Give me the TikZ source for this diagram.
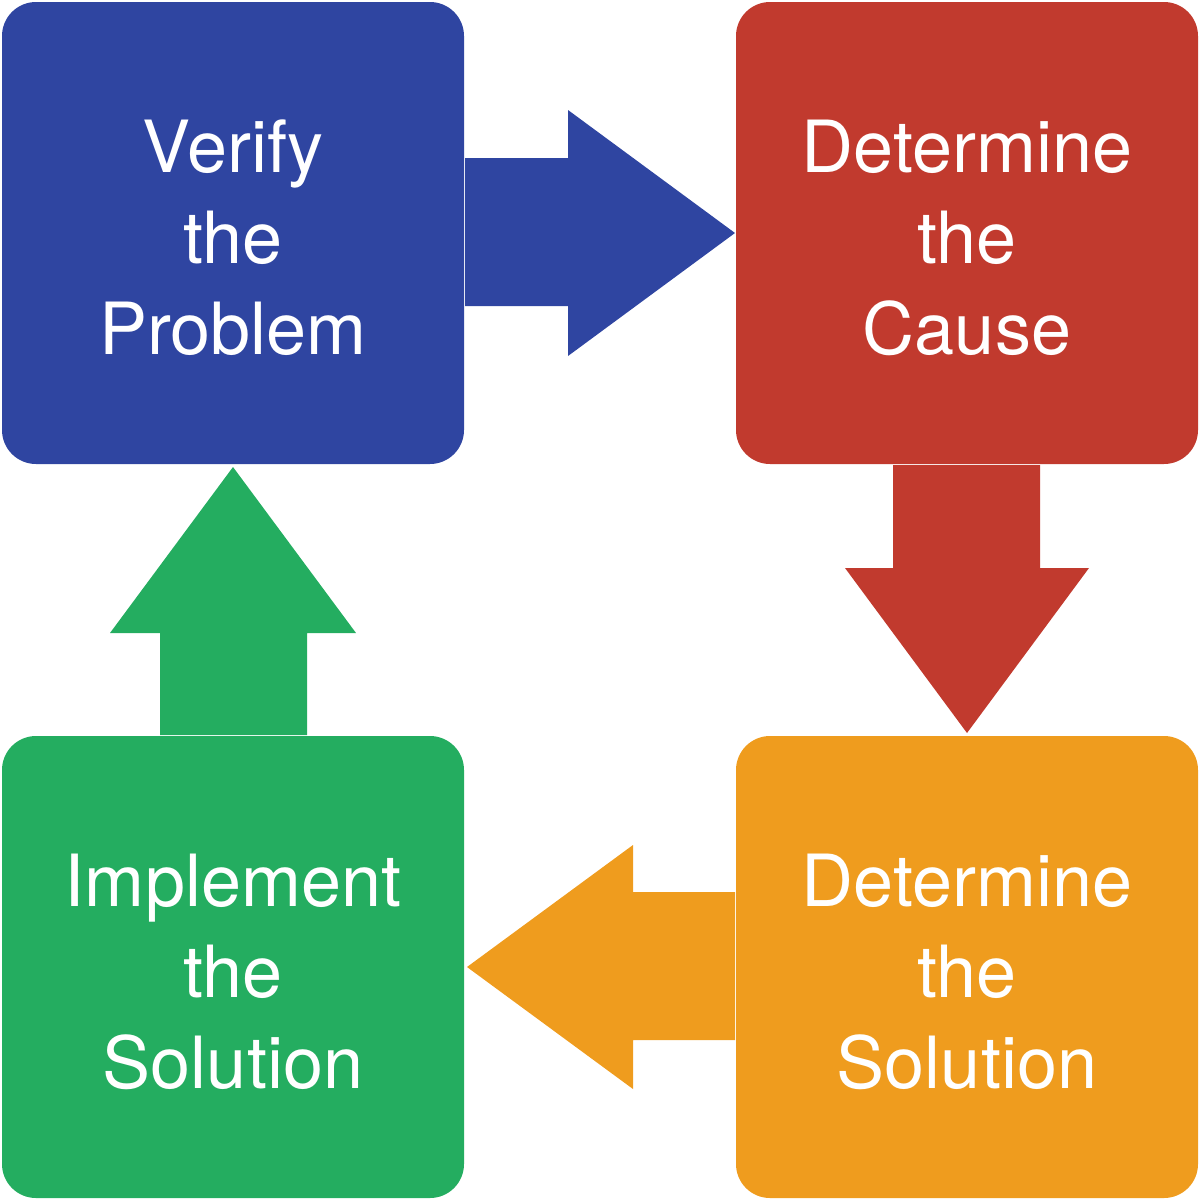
\documentclass[tikz,border=0pt]{standalone}
\usepackage{fontspec}
\setmainfont{TeX Gyre Heros}
\definecolor{vblue}{RGB}{47,69,161}
\definecolor{vred}{RGB}{193,58,46}
\definecolor{vorange}{RGB}{239,156,30}
\definecolor{vgreen}{RGB}{36,173,96}
\tikzset{
  box/.style={rounded corners=17pt, minimum width=231pt, minimum height=231pt, inner sep=0pt, draw=none},
  lbl/.style={text=white, align=center, font=\fontsize{36}{45.5}\selectfont, inner sep=0pt},
}
\begin{document}
\begin{tikzpicture}[x=0.5pt, y=-0.5pt]
\useasboundingbox (0,0) rectangle (1200,1200);
\node[box, fill=vblue] (verify) at (233,233) {};
\node[box, fill=vred] (cause) at (967,233) {};
\node[box, fill=vgreen] (implement) at (233,967) {};
\node[box, fill=vorange] (solution) at (967,967) {};
\node[lbl] (tverify) at (233,238) {Verify\\the\\Problem};
\node[lbl] (tcause) at (967,238) {Determine\\the\\Cause};
\node[lbl] (timplement) at (233,972) {Implement\\the\\Solution};
\node[lbl] (tsolution) at (967,972) {Determine\\the\\Solution};
% blue right arrow
\fill[vblue] (465,158) -- (568,158) -- (568,110) -- (735,233) -- (568,356) -- (568,306) -- (465,306) -- cycle;
% red down arrow
\fill[vred] (893,465) -- (893,568) -- (845,568) -- (967,733) -- (1089,568) -- (1040,568) -- (1040,465) -- cycle;
% orange left arrow
\fill[vorange] (735,892) -- (633,892) -- (633,845) -- (467,967) -- (633,1089) -- (633,1040) -- (735,1040) -- cycle;
% green up arrow
\fill[vgreen] (160,735) -- (160,633) -- (110,633) -- (233,467) -- (356,633) -- (307,633) -- (307,735) -- cycle;
\end{tikzpicture}
\end{document}
